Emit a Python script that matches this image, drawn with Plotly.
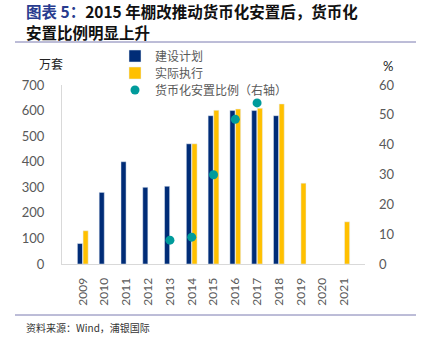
import plotly.graph_objects as go

years = ["2009", "2010", "2011", "2012", "2013", "2014", "2015",
         "2016", "2017", "2018", "2019", "2020", "2021"]
plan = [80, 280, 400, 300, 304, 470, 580, 600, 600, 580, None, None, None]
actual = [130, None, None, None, None, 470, 601, 606, 609, 626, 316, None, 165]
cash_ratio = [None, None, None, None, 8.0, 9.0, 29.9, 48.5, 54.0, None, None, None, None]

NAVY = "#002C77"
GOLD = "#FFC000"
TEAL = "#009B9B"
GREY = "#595959"
CJK = "Noto Sans CJK SC"
NUM = "Lato, Noto Sans CJK SC"

W, H = 428, 344
L, R, T, B = 62, 63, 85, 80
PW, PH = W - L - R, H - T - B


def px(x):
    return (x - L) / PW


def py(y):
    return (H - B - y) / PH


fig = go.Figure()
fig.add_trace(go.Bar(x=years, y=plan, name="建设计划", marker_color=NAVY,
                     legend="legend"))
fig.add_trace(go.Bar(x=years, y=actual, name="实际执行", marker_color=GOLD,
                     legend="legend2"))
fig.add_trace(go.Scatter(x=years, y=cash_ratio, name="货币化安置比例（右轴）",
                         yaxis="y2", mode="markers", legend="legend3",
                         marker=dict(color=TEAL, size=9)))

# one legend box per series so the rows can sit close together
legend_rows = {"legend": 56, "legend2": 73, "legend3": 90}
legend_style = dict(xanchor="left", yanchor="middle", bgcolor="rgba(0,0,0,0)",
                    font=dict(family=CJK, size=12, color=GREY),
                    itemwidth=30, borderwidth=0)
for key, row in legend_rows.items():
    fig.update_layout({key: dict(x=px(115), y=py(row), **legend_style)})

fig.update_layout(
    width=W, height=H,
    margin=dict(l=L, r=R, t=T, b=B, pad=0),
    paper_bgcolor="white", plot_bgcolor="white",
    barmode="group", bargap=0.48, bargroupgap=0.1,
    font=dict(family=NUM, color=GREY),
    showlegend=True,
    xaxis=dict(type="category", tickangle=-90, showgrid=False,
               showline=True, linecolor="#D9D9D9", linewidth=1,
               ticks="", ticklabelstandoff=8,
               tickfont=dict(family=NUM, size=12, color=GREY)),
    yaxis=dict(range=[0, 700], dtick=100, showgrid=False, zeroline=False,
               showline=True, linecolor="#D9D9D9", linewidth=1,
               ticks="", ticklabelstandoff=14,
               tickfont=dict(family=NUM, size=13, color=GREY)),
    yaxis2=dict(range=[0, 60], dtick=10, overlaying="y", side="right",
                showgrid=False, zeroline=False, showline=False, ticks="",
                ticklabelstandoff=13,
                tickfont=dict(family=NUM, size=13, color=GREY)),
)

annotations = [
    dict(x=px(24), y=py(11), xanchor="left", yanchor="middle",
         text="<b><span style='color:#283C8F'>图表 5：</span>2015 年棚改推动货币化安置后，货币化</b>",
         font=dict(family=CJK, size=15.5, color="#111111")),
    dict(x=px(24), y=py(32), xanchor="left", yanchor="middle",
         text="<b>安置比例明显上升</b>",
         font=dict(family=CJK, size=15.5, color="#111111")),
    dict(x=px(37), y=py(63), xanchor="left", yanchor="middle",
         text="万套", font=dict(family=CJK, size=12, color="#222222")),
    dict(x=px(381), y=py(66), xanchor="left", yanchor="middle",
         text="%", font=dict(family=NUM, size=13, color="#222222")),
    dict(x=px(24), y=py(327), xanchor="left", yanchor="middle",
         text="资料来源：Wind，浦银国际", font=dict(family=CJK, size=10, color="#333333")),
]
for a in annotations:
    a.update(xref="paper", yref="paper", showarrow=False)
fig.update_layout(annotations=annotations)

for yy in (42, 315):
    fig.add_shape(type="line", xref="paper", yref="paper",
                  x0=px(15), x1=px(416), y0=py(yy), y1=py(yy),
                  line=dict(color="#7B7BB0", width=1))

fig.write_html("out.html")
